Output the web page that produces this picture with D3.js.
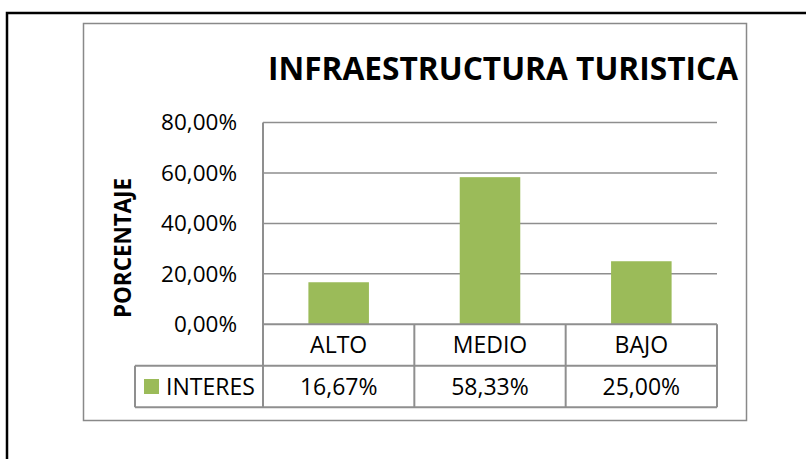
<!DOCTYPE html>
<html>
<head>
<meta charset="utf-8">
<script src="https://cdn.jsdelivr.net/npm/d3@7"></script>
<style>
  body { margin: 0; background: #fff; }
  text { font-family: "Open Sans", sans-serif; fill: #000; }
</style>
</head>
<body>
<div id="chart"></div>
<script>
// Chart data
const categories = ["ALTO", "MEDIO", "BAJO"];
const values = [16.67, 58.33, 25.00];
const yTicks = [0, 20, 40, 60, 80];
const seriesName = "INTERES";
const title = "INFRAESTRUCTURA TURISTICA";
const yTitle = "PORCENTAJE";

const width = 806, height = 459;

const svg = d3.select("#chart")
  .append("svg")
  .attr("width", width)
  .attr("height", height);

// Spanish number format (comma decimal)
const locale = d3.formatLocale({ decimal: ",", thousands: ".", grouping: [3], currency: ["", " €"] });
const pct = locale.format(".2f");

// Plot area
const plotLeft = 263, plotRight = 717, plotTop = 122.5, plotBottom = 324.3;
const rowH = 41.5;

const x = d3.scaleBand()
  .domain(categories)
  .range([plotLeft, plotRight])
  .paddingInner(0.6)
  .paddingOuter(0.3);

// column cells for the data table
const col = d3.scaleBand().domain(categories).range([plotLeft, plotRight]);

const y = d3.scaleLinear()
  .domain([0, 80])
  .range([plotBottom, plotTop]);

// Outer page border
svg.append("rect")
  .attr("x", 7).attr("y", 13)
  .attr("width", 820).attr("height", 470)
  .attr("fill", "none")
  .attr("stroke", "#000")
  .attr("stroke-width", 2.5);

// Chart frame
svg.append("rect")
  .attr("x", 83.5).attr("y", 23.5)
  .attr("width", 663).attr("height", 397)
  .attr("fill", "#fff")
  .attr("stroke", "#898989")
  .attr("stroke-width", 1.5);

// Title
svg.append("text")
  .attr("x", 503).attr("y", 80)
  .attr("text-anchor", "middle")
  .attr("font-size", 33)
  .attr("font-weight", "bold")
  .attr("textLength", 470)
  .attr("lengthAdjust", "spacingAndGlyphs")
  .text(title);

// Gridlines
svg.append("g")
  .selectAll("line")
  .data(yTicks.filter(d => d > 0))
  .join("line")
  .attr("x1", plotLeft).attr("x2", plotRight)
  .attr("y1", d => y(d)).attr("y2", d => y(d))
  .attr("stroke", "#8e8e8e")
  .attr("stroke-width", 1.5);

// Y tick labels
svg.append("g")
  .selectAll("text")
  .data(yTicks)
  .join("text")
  .attr("x", 237)
  .attr("y", d => y(d))
  .attr("dy", "0.35em")
  .attr("text-anchor", "end")
  .attr("font-size", 22.5)
  .text(d => pct(d) + "%");

// Y axis title
svg.append("text")
  .attr("transform", `translate(131, 248) rotate(-90)`)
  .attr("text-anchor", "middle")
  .attr("font-size", 23)
  .attr("font-weight", "bold")
  .attr("textLength", 140)
  .attr("lengthAdjust", "spacingAndGlyphs")
  .text(yTitle);

// Bars
svg.append("g")
  .selectAll("rect")
  .data(values)
  .join("rect")
  .attr("x", (d, i) => x(categories[i]))
  .attr("y", d => y(d))
  .attr("width", x.bandwidth())
  .attr("height", d => y(0) - y(d))
  .attr("fill", "#9bbb59");

// Data table
const table = svg.append("g")
  .attr("stroke", "#8f8f8f")
  .attr("stroke-width", 2)
  .attr("fill", "none");

// vertical axis line
table.append("line")
  .attr("x1", plotLeft).attr("x2", plotLeft)
  .attr("y1", plotTop).attr("y2", plotBottom + 2 * rowH);

// horizontal table lines
table.append("line").attr("x1", plotLeft).attr("x2", plotRight).attr("y1", plotBottom).attr("y2", plotBottom);
table.append("line").attr("x1", 135).attr("x2", plotRight).attr("y1", plotBottom + rowH).attr("y2", plotBottom + rowH);
table.append("line").attr("x1", 135).attr("x2", plotRight).attr("y1", plotBottom + 2 * rowH).attr("y2", plotBottom + 2 * rowH);
table.append("line").attr("x1", 135).attr("x2", 135).attr("y1", plotBottom + rowH).attr("y2", plotBottom + 2 * rowH);

// column dividers
table.selectAll("line.col")
  .data(categories)
  .join("line")
  .attr("class", "col")
  .attr("x1", d => col(d) + col.bandwidth())
  .attr("x2", d => col(d) + col.bandwidth())
  .attr("y1", plotBottom).attr("y2", plotBottom + 2 * rowH);

// category labels
svg.append("g")
  .selectAll("text")
  .data(categories)
  .join("text")
  .attr("x", d => col(d) + col.bandwidth() / 2)
  .attr("y", plotBottom + rowH / 2)
  .attr("dy", "0.35em")
  .attr("text-anchor", "middle")
  .attr("font-size", 23)
  .text(d => d);

// values row
svg.append("g")
  .selectAll("text")
  .data(values)
  .join("text")
  .attr("x", (d, i) => col(categories[i]) + col.bandwidth() / 2)
  .attr("y", plotBottom + rowH * 1.5)
  .attr("dy", "0.35em")
  .attr("text-anchor", "middle")
  .attr("font-size", 23)
  .text(d => pct(d) + "%");

// legend key
svg.append("rect")
  .attr("x", 144).attr("y", 379)
  .attr("width", 15).attr("height", 15)
  .attr("fill", "#9bbb59");

svg.append("text")
  .attr("x", 166)
  .attr("y", plotBottom + rowH * 1.5)
  .attr("dy", "0.35em")
  .attr("font-size", 23)
  .text(seriesName);
</script>
</body>
</html>
